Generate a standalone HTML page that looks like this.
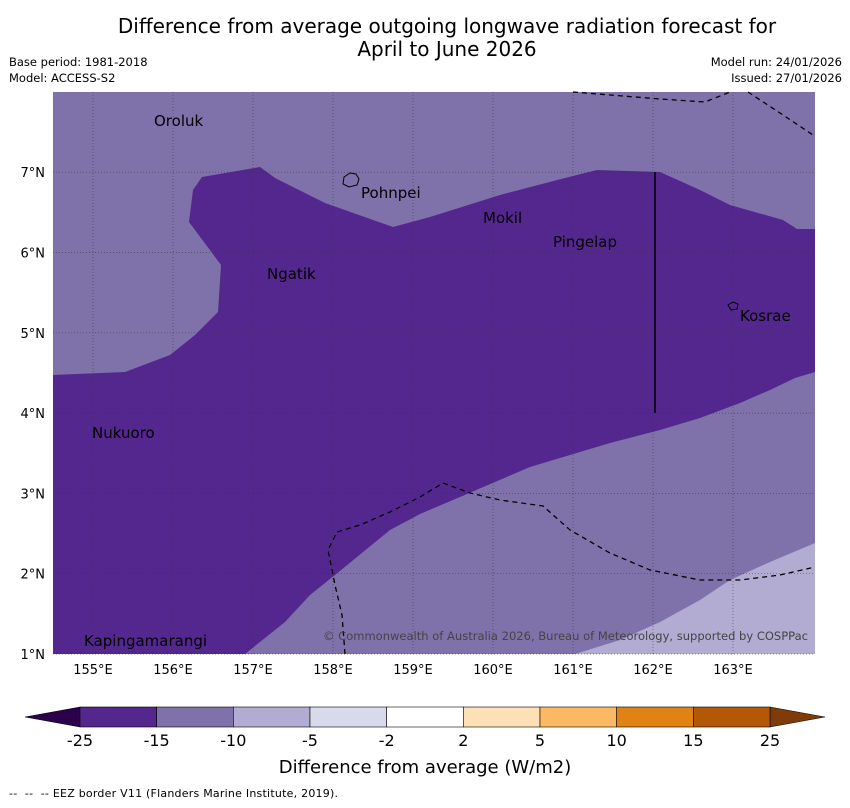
<!DOCTYPE html>
<html><head><meta charset="utf-8"><style>
body{margin:0;background:#fff;font-family:"DejaVu Sans","Liberation Sans",sans-serif;}
svg text{font-family:"DejaVu Sans","Liberation Sans",sans-serif;}
</style></head><body>
<svg width="850" height="804" xmlns="http://www.w3.org/2000/svg">
<rect width="850" height="804" fill="#fff"/>
<text x="447" y="33" font-size="20" text-anchor="middle">Difference from average outgoing longwave radiation forecast for</text>
<text x="447" y="56" font-size="20" text-anchor="middle">April to June 2026</text>
<text x="9" y="66" font-size="11.5">Base period: 1981-2018</text>
<text x="9" y="82" font-size="11.5">Model: ACCESS-S2</text>
<text x="842" y="66" font-size="11.5" text-anchor="end">Model run: 24/01/2026</text>
<text x="842" y="82" font-size="11.5" text-anchor="end">Issued: 27/01/2026</text>
<g>
<rect x="53" y="92" width="762" height="562" fill="#7f72aa"/>
<polygon fill="#54278f" points="53,375 125,372 170,355 195,335 218,312 221,265 189,222 193,190 202,177 260,167 275,178 325,203 393,227 430,217 500,195 565,178 597,170 660,172 700,190 730,205 783,220 797,229 815,229 815,372 795,378 770,390 740,403 700,418 660,430 610,443 570,455 530,467 495,482 460,497 420,514 390,530 335,575 310,595 285,622 245,654 53,654"/>
<polygon fill="#b2abd2" points="575,654 620,640 660,622 700,600 730,580 770,562 815,543 815,654"/>
<g id="grid" stroke="#333" stroke-width="0.7" stroke-dasharray="1,2" opacity="0.7"></g>
<polyline fill="none" stroke="#000" stroke-width="1.3" stroke-dasharray="5,4" points="573,92 660,99 705,102 730,92"/>
<polyline fill="none" stroke="#000" stroke-width="1.3" stroke-dasharray="5,4" points="748,92 780,113 813,135"/>
<polyline fill="none" stroke="#000" stroke-width="1.3" stroke-dasharray="5,4" points="345,654 342,615 335,585 328,550 337,532 360,525 390,512 420,497 443,483 470,493 500,500 543,506 570,530 610,553 650,570 700,580 740,580 780,575 815,567"/>
<line x1="655" y1="172" x2="655" y2="413" stroke="#000" stroke-width="1.5"/>
<path d="M344,177 l6,-4 6,1 3,5 -2,6 -8,2 -6,-3z" fill="none" stroke="#000"/>
<path d="M728,305 l5,-3 5,2 -1,5 -6,1z" fill="none" stroke="#000"/>
<g font-size="15" fill="#000">
<text x="154" y="126">Oroluk</text>
<text x="361" y="198">Pohnpei</text>
<text x="483" y="223">Mokil</text>
<text x="553" y="247">Pingelap</text>
<text x="267" y="279">Ngatik</text>
<text x="740" y="321">Kosrae</text>
<text x="92" y="438">Nukuoro</text>
<text x="84" y="646">Kapingamarangi</text>
</g>
<text x="808" y="640" font-size="11.5" fill="#444" text-anchor="end" textLength="485">© Commonwealth of Australia 2026, Bureau of Meteorology, supported by COSPPac</text>
</g>
<g id="axes" font-size="13"></g>
<g id="cbar"></g>
<text x="425" y="773" font-size="18" text-anchor="middle">Difference from average (W/m2)</text>
<text x="9" y="797" font-size="11" textLength="329" xml:space="preserve">--  --  -- EEZ border V11 (Flanders Marine Institute, 2019).</text>
</svg>
<script>
const lonTicks=[155,156,157,158,159,160,161,162,163];
const latTicks=[1,2,3,4,5,6,7];
const cbarTicks=["-25","-15","-10","-5","-2","2","5","10","15","25"];
const cbarColors=["#54278f","#7f72aa","#b2abd2","#d8daeb","#ffffff","#fee0b6","#fdb863","#e08214","#b35806"];
const NS="http://www.w3.org/2000/svg";
const xLon=l=>53+(l-154.5)*80;
const yLat=l=>654-(l-1)*80.3;
function mk(t,a,p){const e=document.createElementNS(NS,t);for(const k in a)e.setAttribute(k,a[k]);p.appendChild(e);return e;}
const grid=document.getElementById('grid'),axes=document.getElementById('axes'),cb=document.getElementById('cbar');
lonTicks.forEach(l=>{const x=xLon(l);
 const g=mk('line',{x1:x,x2:x,y1:92,y2:654},grid);
 
 
 const t=mk('text',{x:x,y:674,'text-anchor':'middle'},axes);t.textContent=l+'°E';
 
 });
latTicks.forEach(l=>{const y=yLat(l);
 const g=mk('line',{x1:53,x2:815,y1:y,y2:y},grid);
 
 
 const t=mk('text',{x:45,y:y+5,'text-anchor':'end'},axes);t.textContent=l+'°N';
 
 });
const cx0=80,cx1=770,cy=707,ch=20,sw=(cx1-cx0)/cbarColors.length;
let a1=mk('polygon',{points:`${cx0},${cy} ${cx0},${cy+ch} 25,${cy+ch/2}`,fill:'#2d004b',stroke:'#000','stroke-width':0.5},cb);


let a2=mk('polygon',{points:`${cx1},${cy} ${cx1},${cy+ch} 825,${cy+ch/2}`,fill:'#7f3b08',stroke:'#000','stroke-width':0.5},cb);


cbarColors.forEach((c,i)=>{const r=mk('rect',{x:cx0+i*sw,y:cy,width:sw,height:ch,fill:c,stroke:'#000','stroke-width':0.6},cb);
 
 });
cbarTicks.forEach((t,i)=>{const e=mk('text',{x:cx0+i*sw,y:746,'text-anchor':'middle','font-size':16},cb);e.textContent=t;
 
 });
</script>
</body></html>
